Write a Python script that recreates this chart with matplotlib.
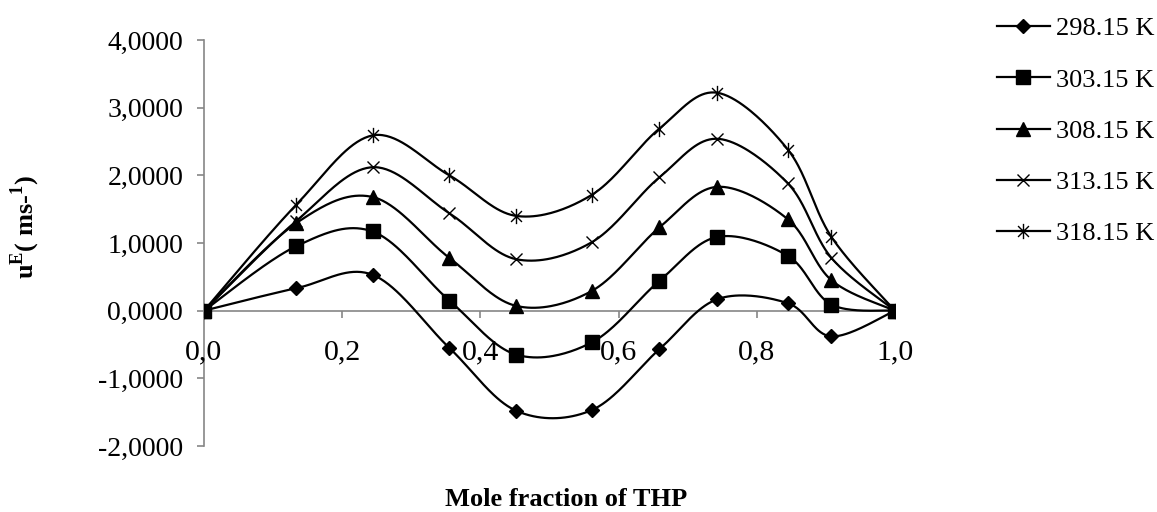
import numpy as np
import matplotlib
matplotlib.use("Agg")
import matplotlib.pyplot as plt
from matplotlib.path import Path
from matplotlib.ticker import FuncFormatter, MultipleLocator

# ------------------------------------------------------------
# Data
# ------------------------------------------------------------
x_thp = [0.0, 0.133, 0.244, 0.355, 0.452, 0.561, 0.659, 0.743, 0.845, 0.908, 1.0]

u_29815 = [0.0, 0.33, 0.53, -0.55, -1.48, -1.47, -0.57, 0.17, 0.11, -0.38, 0.0]
u_30315 = [0.0, 0.95, 1.17, 0.15, -0.65, -0.47, 0.44, 1.09, 0.81, 0.09, 0.0]
u_30815 = [0.0, 1.29, 1.68, 0.78, 0.07, 0.29, 1.23, 1.83, 1.35, 0.45, 0.0]
u_31315 = [0.0, 1.32, 2.12, 1.44, 0.76, 1.01, 1.97, 2.54, 1.88, 0.78, 0.0]
u_31815 = [0.0, 1.56, 2.59, 2.00, 1.40, 1.71, 2.69, 3.22, 2.38, 1.09, 0.0]

labels = ["298.15 K", "303.15 K", "308.15 K", "313.15 K", "318.15 K"]


# ------------------------------------------------------------
# Helper: Excel-style smoothed line (cubic Bezier through points)
# ------------------------------------------------------------
def smooth_line(xs, ys, n=40):
    p = np.column_stack([xs, ys]).astype(float)
    m = len(p)
    out = [p[0]]
    t = np.linspace(0, 1, n)[1:, None]
    for i in range(m - 1):
        p0 = p[i]
        p1 = p[i + 1]
        pm = p[i - 1] if i > 0 else p[i]
        pp = p[i + 2] if i + 2 < m else p[i + 1]
        c1 = p0 + (p1 - pm) / 6.0
        c2 = p1 - (pp - p0) / 6.0
        seg = ((1 - t) ** 3) * p0 + 3 * ((1 - t) ** 2) * t * c1 \
            + 3 * (1 - t) * t ** 2 * c2 + t ** 3 * p1
        out.extend(seg)
    out = np.array(out)
    return out[:, 0], out[:, 1]


# asterisk marker: x plus vertical bar
asterisk = Path(
    [(-0.5, -0.5), (0.5, 0.5), (-0.5, 0.5), (0.5, -0.5), (0, -0.7), (0, 0.7)],
    [Path.MOVETO, Path.LINETO, Path.MOVETO, Path.LINETO, Path.MOVETO, Path.LINETO],
)

plt.rcParams.update({
    "font.family": ["Liberation Serif", "DejaVu Serif"],
    "mathtext.fontset": "custom",
    "mathtext.rm": "Liberation Serif:bold",
    "mathtext.bf": "Liberation Serif:bold",
})

fig = plt.figure(figsize=(11.57, 5.12), dpi=100)
ax = fig.add_axes([204 / 1157, 1 - 446 / 512, (895 - 204) / 1157, (446 - 40) / 512])

series = [u_29815, u_30315, u_30815, u_31315, u_31815]
styles = [
    dict(marker="D", ms=7.5, mfc="black", mec="black"),
    dict(marker="s", ms=9.5, mfc="black", mec="black"),
    dict(marker="^", ms=10, mfc="black", mec="black"),
    dict(marker="x", ms=9, mew=1.0, mec="black"),
    dict(marker=asterisk, ms=11, mew=1.0, mec="black"),
]

for ys, lab, st in zip(series, labels, styles):
    sx, sy = smooth_line(x_thp, ys)
    ax.plot(sx, sy, color="black", lw=1.6, zorder=3)
    ax.plot(x_thp, ys, ls="none", zorder=4, **st)
    # legend proxy
    ax.plot([], [], color="black", lw=1.6, label=lab, **st)

ax.set_xlim(0, 1.0)
ax.set_ylim(-2, 4)
ax.yaxis.set_major_locator(MultipleLocator(1))
ax.xaxis.set_major_locator(MultipleLocator(0.2))
ax.yaxis.set_major_formatter(FuncFormatter(lambda v, p: f"{v:.4f}".replace(".", ",")))
ax.xaxis.set_major_formatter(FuncFormatter(lambda v, p: f"{v:.1f}".replace(".", ",")))

for s in ["top", "right"]:
    ax.spines[s].set_visible(False)
ax.spines["bottom"].set_position(("data", 0))
ax.spines["left"].set_color("#868686")
ax.spines["bottom"].set_color("#868686")
ax.spines["left"].set_linewidth(1.2)
ax.spines["bottom"].set_linewidth(1.2)
ax.spines["left"].set_zorder(1)
ax.spines["bottom"].set_zorder(1)

ax.tick_params(axis="y", direction="out", length=5, width=1.2, color="#868686",
               labelsize=20, pad=10)
ax.tick_params(axis="x", direction="out", length=5, width=1.2, color="#868686",
               labelsize=21.5, pad=16)

fig.text(25 / 1157, 1 - 227 / 512, r"u$^{\mathrm{E}}$( ms-$^{\mathrm{1}}$)",
         rotation=90, ha="center", va="center", fontsize=19, fontweight="bold")
fig.text(566 / 1157, 1 - 500 / 512, "Mole fraction of THP",
         ha="center", va="center", fontsize=19, fontweight="bold")

fig.legend(loc="upper left", bbox_to_anchor=(997 / 1157, 1 - 17 / 512),
           frameon=False, fontsize=19, handlelength=2.0, handletextpad=0.25,
           labelspacing=1.05, borderpad=0, borderaxespad=0)

fig.savefig("out.png", dpi=100)
plt.close(fig)
